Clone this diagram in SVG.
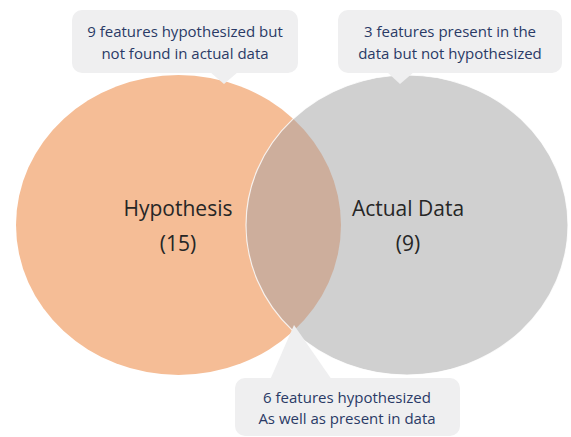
<svg xmlns="http://www.w3.org/2000/svg" width="571" height="437" viewBox="0 0 571 437">
  <style>
    .callout { fill: #EFEFF0; }
    .ctext { font-family: "Open Sans", "Liberation Sans", sans-serif; font-size: 15px; fill: #2A3A66; text-anchor: middle; }
    .label { font-family: "Open Sans", "Liberation Sans", sans-serif; font-size: 21px; fill: #262626; text-anchor: middle; }
  </style>
  <defs>
    <clipPath id="grayClip">
      <ellipse cx="407" cy="225" rx="161" ry="150"/>
    </clipPath>
  </defs>
  <rect width="571" height="437" fill="#FFFFFF"/>
  <g id="hypothesis">
    <ellipse cx="178.5" cy="225" rx="162.5" ry="150" fill="#F5BD96"/>
  </g>
  <g id="actual-data">
    <ellipse cx="407" cy="225" rx="161" ry="150" fill="#D0D0D0"/>
  </g>
  <g id="overlap">
    <ellipse cx="178.5" cy="225" rx="162.5" ry="150" fill="#CDAE9C" clip-path="url(#grayClip)"/>
    <ellipse cx="407" cy="225" rx="161" ry="150" fill="none" stroke="#FFFFFF" stroke-opacity="0.8" stroke-width="1.2" clip-path="none"/>
  </g>
  <g id="labels">
    <text class="label" x="178" y="216">Hypothesis</text>
    <text class="label" x="178" y="251">(15)</text>
    <text class="label" x="408" y="216">Actual Data</text>
    <text class="label" x="408" y="251">(9)</text>
  </g>
  <g id="callout-hypothesis-only">
    <rect class="callout" x="72" y="10" width="226" height="63" rx="10"/>
    <polygon class="callout" points="210,72 224,84 238,72"/>
    <text class="ctext" x="185" y="37">9 features hypothesized but</text>
    <text class="ctext" x="185" y="59">not found in actual data</text>
  </g>
  <g id="callout-data-only">
    <rect class="callout" x="338" y="10" width="224" height="63" rx="10"/>
    <polygon class="callout" points="387,72 400,84 414,72"/>
    <text class="ctext" x="450" y="37">3 features present in the</text>
    <text class="ctext" x="450" y="59">data but not hypothesized</text>
  </g>
  <g id="callout-overlap">
    <polygon class="callout" points="270,380 294,325 332,380"/>
    <rect class="callout" x="235" y="378" width="225" height="58" rx="10"/>
    <text class="ctext" x="347" y="403">6 features hypothesized</text>
    <text class="ctext" x="347" y="424">As well as present in data</text>
  </g>
</svg>
